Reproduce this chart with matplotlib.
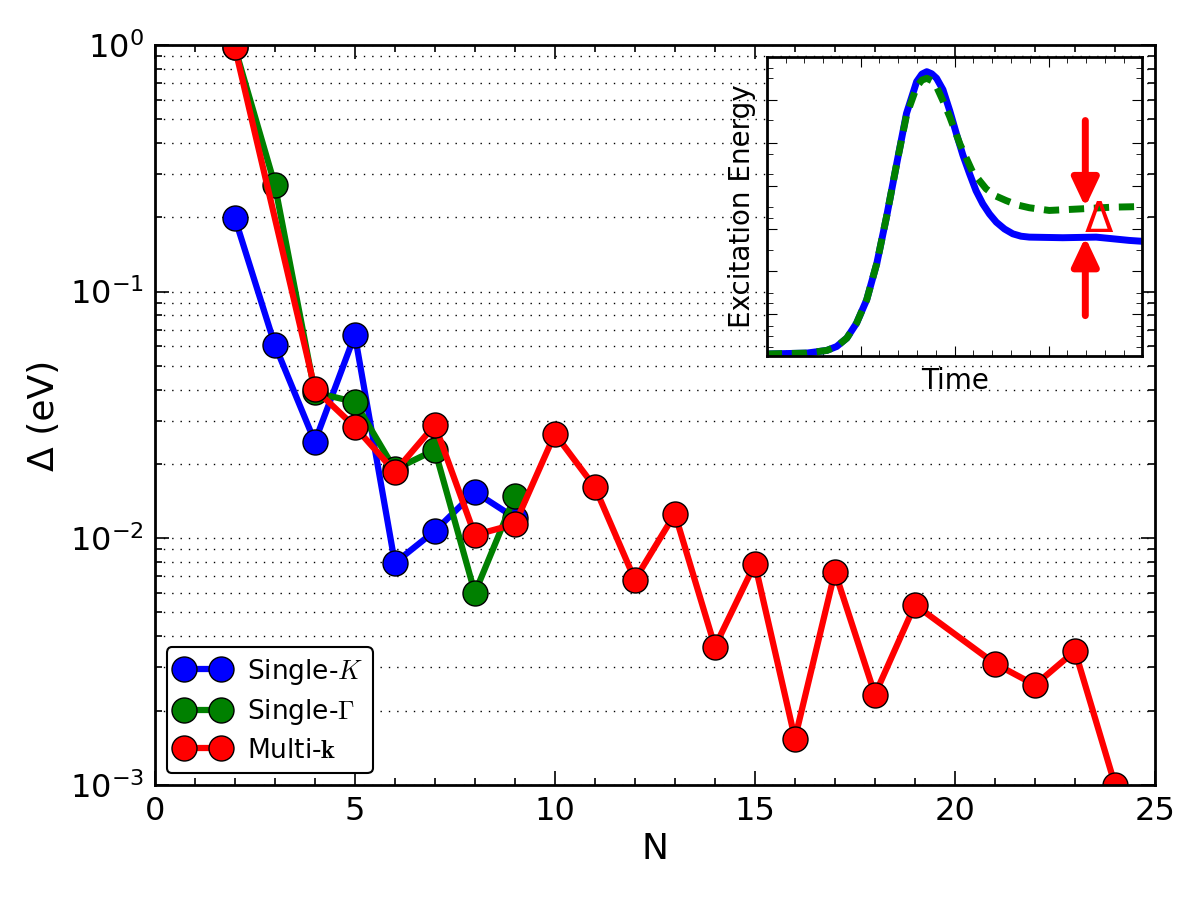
import matplotlib
matplotlib.use('Agg')
import matplotlib.pyplot as plt
from matplotlib.ticker import LogLocator, MultipleLocator, NullFormatter

plt.rcParams['mathtext.fontset'] = 'cm'
plt.rcParams['font.family'] = 'DejaVu Sans'

# main data
n_k = [2, 3, 4, 5, 6, 7, 8, 9]
delta_k = [0.199, 0.0608, 0.0246, 0.0667, 0.00794, 0.0107, 0.0154, 0.0121]

n_g = [2, 3, 4, 5, 6, 7, 8, 9]
delta_g = [0.98, 0.271, 0.039, 0.0357, 0.019, 0.0228, 0.0060, 0.0148]

n_multi = [2, 4, 5, 6, 7, 8, 9, 10, 11, 12, 13, 14, 15, 16, 17, 18, 19, 21, 22, 23, 24]
delta_multi = [0.98, 0.0403, 0.0283, 0.0186, 0.0288, 0.0103, 0.0114, 0.0265, 0.0161,
               0.00678, 0.01255, 0.00363, 0.00787, 0.00154, 0.00731, 0.00232, 0.00537,
               0.00310, 0.00254, 0.00349, 0.00100]

labels = ['Single-$K$', 'Single-$\\Gamma$', 'Multi-$\\mathbf{k}$']

# inset data (schematic curves, axes 0..1)
t_blue = [0.0, 0.106, 0.16, 0.186, 0.213, 0.239, 0.266, 0.293, 0.319, 0.346, 0.372, 0.399,
          0.413, 0.426, 0.439, 0.452, 0.469, 0.487, 0.505, 0.522, 0.54, 0.557, 0.575, 0.593,
          0.611, 0.633, 0.655, 0.677, 0.699, 0.788, 0.877, 0.965, 1.0]
e_blue = [0.008, 0.011, 0.02, 0.033, 0.061, 0.111, 0.189, 0.311, 0.467, 0.644, 0.811, 0.917,
          0.942, 0.95, 0.943, 0.928, 0.89, 0.82, 0.742, 0.672, 0.609, 0.553, 0.509, 0.475,
          0.448, 0.425, 0.409, 0.401, 0.398, 0.396, 0.398, 0.387, 0.384]

t_green = [0.0, 0.106, 0.16, 0.186, 0.213, 0.239, 0.266, 0.293, 0.319, 0.346, 0.372, 0.399,
           0.413, 0.426, 0.439, 0.452, 0.469, 0.487, 0.514, 0.548, 0.584, 0.61, 0.637, 0.668,
           0.699, 0.752, 0.832, 0.921, 1.0]
e_green = [0.008, 0.011, 0.02, 0.033, 0.061, 0.111, 0.189, 0.311, 0.467, 0.644, 0.805, 0.9,
           0.922, 0.928, 0.92, 0.9, 0.853, 0.8, 0.709, 0.615, 0.559, 0.535, 0.52, 0.505,
           0.496, 0.487, 0.492, 0.498, 0.5]

arrow_x = 0.848
arrow_top = (0.787, 0.498)
arrow_bottom = (0.136, 0.398)
delta_pos = (0.885, 0.455)

fig = plt.figure(figsize=(12, 9), dpi=100)
ax = fig.add_axes([0.129, 0.128, 0.8335, 0.822])

ax.plot(n_k, delta_k, '-o', color='b', lw=4.5, ms=18, mec='k', mew=1, label=labels[0])
ax.plot(n_g, delta_g, '-o', color='g', lw=4.5, ms=18, mec='k', mew=1, label=labels[1])
ax.plot(n_multi, delta_multi, '-o', color='r', lw=4.5, ms=18, mec='k', mew=1, label=labels[2])

ax.set_yscale('log')
ax.set_xlim(0, 25)
ax.set_ylim(1e-3, 1e0)
ax.xaxis.set_major_locator(MultipleLocator(5))
ax.xaxis.set_minor_locator(MultipleLocator(1))
ax.yaxis.set_major_locator(LogLocator(base=10))
ax.yaxis.set_minor_locator(LogLocator(base=10, subs=range(2, 10)))
ax.yaxis.set_minor_formatter(NullFormatter())
ax.tick_params(which='both', direction='in', top=True, right=True, labelsize=23, width=1.2)
ax.tick_params(which='major', length=10, pad=8)
ax.tick_params(which='minor', length=5)
ax.grid(True, which='both', axis='y', color='k', lw=1, dashes=(1, 5))
for s in ax.spines.values():
    s.set_linewidth(2)

ax.set_xlabel('N', fontsize=26)
ax.set_ylabel('Δ (eV)', fontsize=26, labelpad=6)

leg = ax.legend(loc='lower left', numpoints=2, fontsize=19, fancybox=True,
                handlelength=2.0, borderpad=0.35, labelspacing=0.4,
                borderaxespad=0.45, handletextpad=0.7)
leg.get_frame().set_edgecolor('k')
leg.get_frame().set_linewidth(1.5)
leg.get_frame().set_alpha(1)

# inset
ins = fig.add_axes([0.639, 0.604, 0.313, 0.333])
ins.set_facecolor('white')
ins.plot(t_blue, e_blue, '-', color='b', lw=5, solid_capstyle='round')
ins.plot(t_green, e_green, '--', color='g', lw=5, dashes=(2.2, 1.4))
arrow_style = '-|>,head_width=0.4,head_length=0.85'
ins.annotate('', xy=(arrow_x, arrow_top[1]), xytext=(arrow_x, arrow_top[0]),
             arrowprops=dict(arrowstyle=arrow_style, color='r', lw=5, mutation_scale=20,
                             shrinkA=0, shrinkB=0))
ins.annotate('', xy=(arrow_x, arrow_bottom[1]), xytext=(arrow_x, arrow_bottom[0]),
             arrowprops=dict(arrowstyle=arrow_style, color='r', lw=5, mutation_scale=20,
                             shrinkA=0, shrinkB=0))
ins.text(delta_pos[0], delta_pos[1], 'Δ', color='r', fontsize=30, ha='center', va='center')
ins.set_xlim(0, 1)
ins.set_ylim(0, 1)
ins.xaxis.set_major_locator(MultipleLocator(0.25))
ins.xaxis.set_minor_locator(MultipleLocator(0.05))
ins.set_yticks([0.141, 0.286, 0.424, 0.569, 0.713, 0.854])
ins.set_yticks([0.032, 0.069, 0.102, 0.177, 0.213, 0.354, 0.463, 0.499, 0.608, 0.677,
                0.788, 0.93, 0.963], minor=True)
ins.set_xticklabels([])
ins.set_yticklabels([])
ins.tick_params(which='both', direction='in', top=True, right=True)
ins.tick_params(which='major', length=7)
ins.tick_params(which='minor', length=4)
for s in ins.spines.values():
    s.set_linewidth(2)
ins.set_xlabel('Time', fontsize=20)
ins.set_ylabel('Excitation Energy', fontsize=20)

fig.savefig('out.png', dpi=100)
